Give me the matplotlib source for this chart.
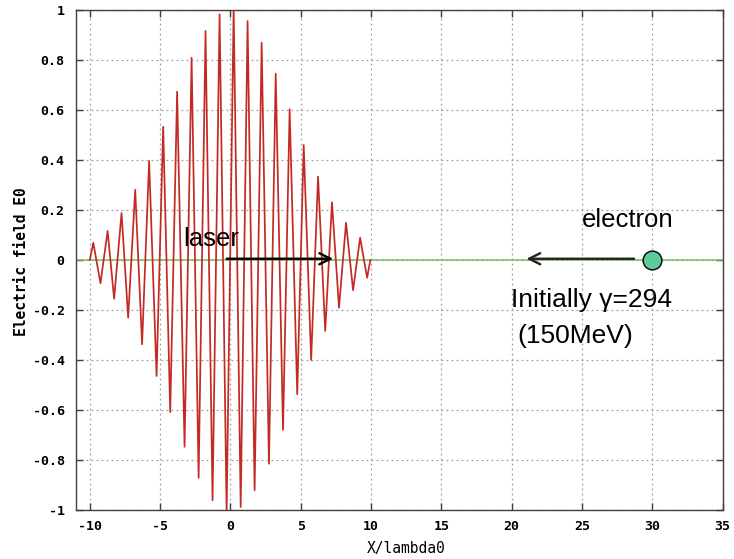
import matplotlib
matplotlib.use("Agg")
import matplotlib.pyplot as plt
from matplotlib.ticker import FuncFormatter

plt.rcParams['axes.unicode_minus'] = False

# laser field: maxima / minima (x in lambda0, E in E0)
peak_x = [-9.75, -8.73, -7.74, -6.77, -5.78, -4.78, -3.79, -2.76, -1.77, -0.77,
          0.23, 1.22, 2.22, 3.22, 4.21, 5.21, 6.23, 7.22, 8.22, 9.22]
peak_y = [0.069, 0.116, 0.188, 0.281, 0.396, 0.533, 0.673, 0.809, 0.916, 0.983,
          1.01, 0.956, 0.869, 0.745, 0.603, 0.46, 0.333, 0.231, 0.149, 0.089]
trough_x = [-9.24, -8.27, -7.27, -6.28, -5.25, -4.28, -3.26, -2.26, -1.27, -0.27,
            0.73, 1.72, 2.74, 3.74, 4.75, 5.74, 6.74, 7.72, 8.72, 9.72]
trough_y = [-0.093, -0.155, -0.231, -0.337, -0.464, -0.608, -0.747, -0.871, -0.961, -1.01,
            -0.988, -0.921, -0.815, -0.68, -0.537, -0.4, -0.284, -0.191, -0.121, -0.071]
edge_x = [-10.0, 9.95]
edge_y = [0.0, 0.0]

# baseline (green) and electron
axis_x = [-11, 35]
axis_y = [0, 0]
electron_x = 30.0
electron_y = 0.0

x_ticks = [-10, -5, 0, 5, 10, 15, 20, 25, 30, 35]
y_ticks = [-1, -0.8, -0.6, -0.4, -0.2, 0, 0.2, 0.4, 0.6, 0.8, 1]

pts = sorted(zip(peak_x + trough_x + edge_x, peak_y + trough_y + edge_y))
wave_x = [p[0] for p in pts]
wave_y = [p[1] for p in pts]

fig = plt.figure(figsize=(7.34, 5.59), dpi=100)
ax = fig.add_axes([75.7 / 734, 1 - 510 / 559, (722.7 - 75.7) / 734, 500 / 559])

ax.grid(True, color='#a0a0a0', linestyle=(0, (1.5, 2.5)), linewidth=0.9)
ax.set_axisbelow(True)

ax.plot(axis_x, axis_y, color='#78c058', lw=1.1, zorder=2)
ax.plot(wave_x, wave_y, color='#c42a25', lw=1.25, solid_joinstyle='round', zorder=3)

# arrows
ax.annotate('', xy=(7.3, 0.005), xytext=(-0.27, 0.005),
            arrowprops=dict(arrowstyle='->', lw=1.7, color='black',
                            mutation_scale=20, shrinkA=0, shrinkB=0), zorder=4)
ax.annotate('', xy=(21.05, 0.005), xytext=(28.7, 0.005),
            arrowprops=dict(arrowstyle='->', lw=1.7, color='#222222',
                            mutation_scale=20, shrinkA=0, shrinkB=0), zorder=4)
ax.plot([electron_x], [electron_y], 'o', ms=13.5, mfc='#5fcb9a', mec='black',
        mew=1.0, zorder=5)

tfont = dict(family='Liberation Sans', color='black')
ax.text(-3.36, 0.056, 'laser', fontsize=18.5, va='baseline', **tfont)
ax.text(24.97, 0.133, 'electron', fontsize=18.5, va='baseline', **tfont)
ax.text(19.92, -0.19, 'Initially \u03b3=294', fontsize=19, va='baseline', **tfont)
ax.text(20.37, -0.332, '(150MeV)', fontsize=19, va='baseline', **tfont)

ax.set_xlim(-11, 35)
ax.set_ylim(-1, 1)
ax.set_xticks(x_ticks)
ax.set_yticks(y_ticks)
ax.yaxis.set_major_formatter(FuncFormatter(lambda v, p: '%g' % round(v, 2)))
ax.xaxis.set_major_formatter(FuncFormatter(lambda v, p: '%g' % v))

ax.tick_params(direction='in', length=5, width=1, color='#404040',
               top=True, right=True, labelsize=9.5)
ax.tick_params(axis='x', pad=7)
ax.tick_params(axis='y', pad=8)
for lab in ax.get_xticklabels() + ax.get_yticklabels():
    lab.set_family('DejaVu Sans Mono')
    lab.set_weight('bold')
for sp in ax.spines.values():
    sp.set_color('#404040')
    sp.set_linewidth(1.0)

fig.text(21.7 / 734, 1 - 261.5 / 559, 'Electric field E0', rotation=90,
         ha='center', va='center', family='DejaVu Sans Mono', weight='bold',
         fontsize=10.5)
fig.text(406 / 734, 1 - 548 / 559, 'X/lambda0', ha='center', va='center',
         family='DejaVu Sans Mono', fontsize=10.5)

fig.savefig('out.png', dpi=100)
